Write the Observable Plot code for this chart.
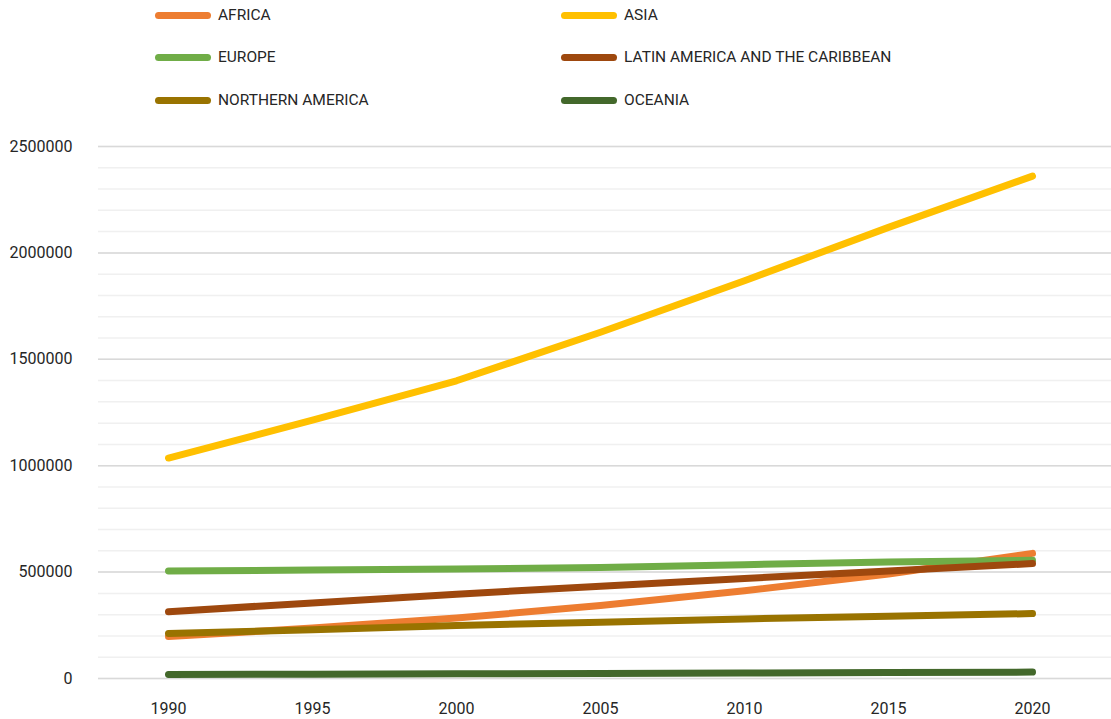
<!DOCTYPE html>
<html>
<head>
<meta charset="utf-8">
<script src="https://cdn.jsdelivr.net/npm/d3@7"></script>
<script src="https://cdn.jsdelivr.net/npm/@observablehq/plot@0.6"></script>
<style>
  html, body { margin: 0; padding: 0; background: #fff; }
  body { width: 1111px; height: 719px; overflow: hidden; font-family: Roboto, "Liberation Sans", sans-serif; }
  #legend { position: relative; width: 1111px; height: 125px; }
  .item { position: absolute; display: flex; align-items: center; height: 20px; font-size: 15.5px; color: #262626; }
  .sw { width: 56px; height: 7px; border-radius: 4px; margin-right: 7px; }
  svg { display: block; }
</style>
</head>
<body>
<div id="legend"></div>
<div id="chart"></div>
<script>
const years = [1990, 1995, 2000, 2005, 2010, 2015, 2020];
const regions = ["AFRICA", "ASIA", "EUROPE", "LATIN AMERICA AND THE CARIBBEAN", "NORTHERN AMERICA", "OCEANIA"];
const colors = ["#ED7D31", "#FFC000", "#70AD47", "#9E480E", "#997300", "#43682B"];
const africa   = [197000, 237000, 284000, 343000, 412000, 491000, 588000];
const asia     = [1036000, 1214000, 1399000, 1627000, 1869000, 2120000, 2361000];
const europe   = [505000, 510000, 514000, 522000, 535000, 547000, 556000];
const latam    = [314000, 355000, 396000, 434000, 470000, 505000, 540000];
const northAm  = [212000, 229000, 249000, 264000, 280000, 293000, 305000];
const oceania  = [19000, 20500, 22000, 24000, 26000, 28000, 30000];
const yTicks = [0, 500000, 1000000, 1500000, 2000000, 2500000];
const minorTicks = d3.range(0, 2500001, 100000);

const series = [africa, asia, europe, latam, northAm, oceania];
const data = [];
regions.forEach((r, i) => years.forEach((y, j) => data.push({region: r, year: y, value: series[i][j]})));

// legend
const legend = document.getElementById("legend");
const pos = [[155, 5], [561, 5], [155, 47], [561, 47], [155, 90], [561, 90]];
regions.forEach((r, i) => {
  const d = document.createElement("div");
  d.className = "item";
  d.style.left = pos[i][0] + "px";
  d.style.top = pos[i][1] + "px";
  d.innerHTML = `<span class="sw" style="background:${colors[i]}"></span><span>${r}</span>`;
  legend.appendChild(d);
});

const chart = Plot.plot({
  width: 1111,
  height: 594,
  marginLeft: 98,
  marginRight: 0,
  marginTop: 21,
  marginBottom: 41,
  style: {fontFamily: "Roboto, sans-serif", fontSize: "16px", color: "#262626", background: "#fff", overflow: "visible"},
  x: {type: "point", domain: years, range: [168, 1032], padding: 0},
  y: {domain: [0, 2500000]},
  color: {domain: regions, range: colors},
  marks: [
    Plot.ruleY(minorTicks, {stroke: "#f0f0f0", strokeWidth: 1.5}),
    Plot.ruleY(yTicks, {stroke: "#d9d9d9", strokeWidth: 1.5}),
    Plot.axisY({ticks: yTicks, tickSize: 0, tickPadding: 26, tickFormat: d => String(d), label: null, fill: "#262626", fontSize: 16}),
    Plot.axisX({tickSize: 0, tickPadding: 24, tickFormat: d => String(d), label: null, fill: "#262626", fontSize: 16}),
    Plot.line(data, {x: "year", y: "value", z: "region", stroke: "region", strokeWidth: 7, strokeLinecap: "round", strokeLinejoin: "round"})
  ]
});
document.getElementById("chart").appendChild(chart);
</script>
</body>
</html>
